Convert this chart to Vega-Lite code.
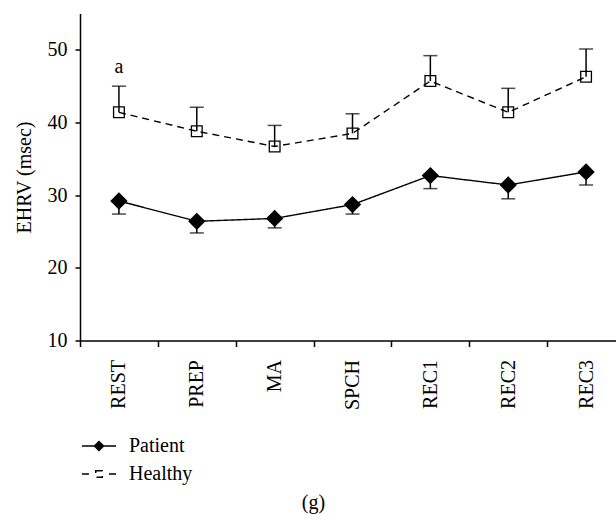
{
  "$schema": "https://vega.github.io/schema/vega-lite/v6.json",
  "width": 536,
  "height": 327,
  "autosize": {"type": "none"},
  "padding": {"left": 80, "top": 13.5, "right": 0, "bottom": 179.5},
  "background": "white",
  "config": {
    "view": {"stroke": null},
    "font": "Liberation Serif",
    "axis": {
      "domainColor": "black", "tickColor": "black", "labelColor": "black", "titleColor": "black",
      "domainWidth": 1.5, "tickWidth": 1.5, "labelFontSize": 20, "titleFontSize": 20,
      "titleFontWeight": "normal", "grid": false, "labelFont": "Liberation Serif", "titleFont": "Liberation Serif"
    },
    "legend": {"labelFont": "Liberation Serif"}
  },
  "data": {
    "values": [
      {"phase": "REST", "group": "Patient", "mean": 29.2, "bar": 27.4},
      {"phase": "PREP", "group": "Patient", "mean": 26.4, "bar": 24.8},
      {"phase": "MA", "group": "Patient", "mean": 26.8, "bar": 25.5},
      {"phase": "SPCH", "group": "Patient", "mean": 28.7, "bar": 27.4},
      {"phase": "REC1", "group": "Patient", "mean": 32.7, "bar": 30.9},
      {"phase": "REC2", "group": "Patient", "mean": 31.4, "bar": 29.5},
      {"phase": "REC3", "group": "Patient", "mean": 33.2, "bar": 31.4},
      {"phase": "REST", "group": "Healthy", "mean": 41.4, "bar": 45.0, "note": "a"},
      {"phase": "PREP", "group": "Healthy", "mean": 38.8, "bar": 42.1},
      {"phase": "MA", "group": "Healthy", "mean": 36.7, "bar": 39.6},
      {"phase": "SPCH", "group": "Healthy", "mean": 38.5, "bar": 41.2},
      {"phase": "REC1", "group": "Healthy", "mean": 45.7, "bar": 49.2},
      {"phase": "REC2", "group": "Healthy", "mean": 41.4, "bar": 44.7},
      {"phase": "REC3", "group": "Healthy", "mean": 46.3, "bar": 50.1}
    ]
  },
  "encoding": {
    "x": {
      "field": "phase", "type": "nominal",
      "sort": ["REST", "PREP", "MA", "SPCH", "REC1", "REC2", "REC3"],
      "scale": {"type": "band", "range": [0, 545], "paddingInner": 0, "paddingOuter": 0},
      "axis": {
        "title": "(g)", "titleX": 233, "titleY": 162, "titleBaseline": "middle", "titleAlign": "center", "titleAngle": 0,
        "tickBand": "extent", "labelAngle": -90, "labelAlign": "right", "labelBaseline": "middle",
        "tickSize": 6, "labelPadding": 13
      }
    },
    "y": {
      "field": "mean", "type": "quantitative",
      "scale": {"domain": [10, 55], "nice": false, "zero": false},
      "axis": {"values": [10, 20, 30, 40, 50], "title": "EHRV (msec)", "tickSize": 5, "labelPadding": 8, "titlePadding": 13}
    }
  },
  "layer": [
    {
      "mark": {"type": "line", "stroke": "black", "strokeWidth": 1.4},
      "encoding": {
        "detail": {"field": "group"},
        "strokeDash": {
          "field": "group", "type": "nominal",
          "scale": {"domain": ["Patient", "Healthy"], "range": [[1, 0], [7, 5]]},
          "legend": {
            "orient": "none", "legendX": 8, "legendY": 421.5, "title": null,
            "symbolSize": 400, "labelFontSize": 20, "labelOffset": 19, "rowPadding": 7, "padding": 0,
            "symbolStrokeWidth": 1.5, "symbolStrokeColor": "black", "labelColor": "black",
            "encode": {
              "symbols": {
                "update": {
                  "shape": {"signal": "datum.value === 'Patient' ? 'M-1.7,0H1.7M0,-0.45L0.45,0L0,0.45L-0.45,0Z' : 'M-1.7,0H-1.0M1.0,0H1.7M-0.33,-0.33H0.33V0.33H-0.33Z'"},
                  "fill": {"signal": "datum.value === 'Patient' ? 'black' : 'white'"},
                  "stroke": {"value": "black"},
                  "strokeDash": {"value": [1, 0]},
                  "strokeWidth": {"value": 1.5}
                }
              }
            }
          }
        }
      }
    },
    {
      "mark": {"type": "rule", "stroke": "black", "strokeWidth": 1.5},
      "encoding": {"y2": {"field": "bar"}}
    },
    {
      "mark": {"type": "tick", "color": "black", "size": 14, "thickness": 1.5},
      "encoding": {"y": {"field": "bar", "type": "quantitative"}}
    },
    {
      "transform": [{"filter": "datum.group === 'Patient'"}],
      "mark": {"type": "point", "shape": "diamond", "size": 300, "filled": true, "color": "black", "opacity": 1}
    },
    {
      "transform": [{"filter": "datum.group === 'Healthy'"}],
      "mark": {"type": "point", "shape": "square", "size": 115, "filled": false, "stroke": "black", "strokeWidth": 1.3, "opacity": 1}
    },
    {
      "transform": [{"filter": "datum.note"}],
      "mark": {"type": "text", "fontSize": 20, "color": "black", "dy": -19, "baseline": "middle"},
      "encoding": {"y": {"field": "bar", "type": "quantitative"}, "text": {"field": "note"}}
    }
  ]
}
